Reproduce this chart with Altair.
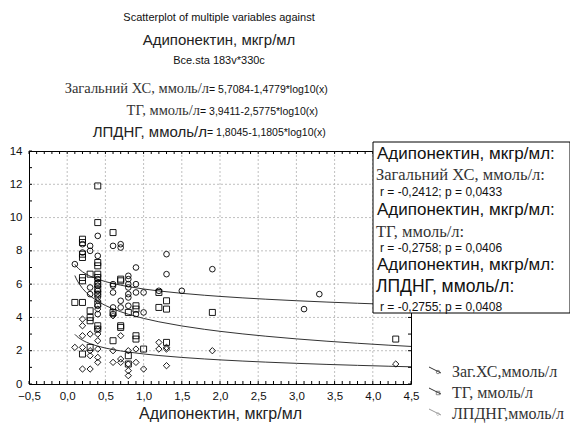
import altair as alt
import pandas as pd
import math

# ---------------- data ----------------
series_names = ["Загальний ХС", "ТГ", "ЛПДНГ"]

xs_chol = [0.1, 0.2, 0.2, 0.3, 0.3, 0.3, 0.3, 0.4, 0.4, 0.4, 0.4, 0.4, 0.4, 0.4, 0.4, 0.4,
           0.6, 0.6, 0.6, 0.6, 0.6, 0.6, 0.7, 0.7, 0.7, 0.7, 0.8, 0.8, 0.8, 0.8, 0.8, 0.8, 0.8,
           0.9, 0.9, 0.9, 0.9, 1.0, 1.0, 1.2, 1.3, 1.3, 1.5, 1.9, 3.1, 3.3]
ys_chol = [7.2, 8.4, 7.9, 8.3, 8.0, 5.8, 5.4, 8.9, 7.7, 6.3, 6.1, 5.9, 5.6, 5.2, 4.7, 4.2,
           8.3, 6.0, 5.9, 5.5, 4.6, 4.2, 8.4, 8.2, 5.0, 4.6, 6.5, 6.3, 6.0, 5.8, 5.4, 5.2, 4.7,
           7.0, 6.0, 5.5, 4.2, 5.5, 4.3, 5.6, 7.8, 6.6, 5.6, 6.9, 4.5, 5.4]

xs_tg = [0.1, 0.2, 0.2, 0.2, 0.2, 0.2, 0.2, 0.2, 0.2, 0.3, 0.3, 0.3, 0.3, 0.3,
         0.4, 0.4, 0.4, 0.4, 0.4, 0.4, 0.4, 0.4, 0.4, 0.4, 0.4, 0.4,
         0.6, 0.6, 0.6, 0.7, 0.7, 0.7, 0.7, 0.8, 0.8, 0.8, 0.9, 0.9, 0.9, 0.9,
         1.0, 1.2, 1.2, 1.3, 1.3, 1.3, 1.9, 4.3]
ys_tg = [4.9, 8.7, 8.5, 7.8, 7.6, 6.4, 6.2, 4.9, 1.8, 6.6, 4.4, 4.0, 3.8, 2.2,
         11.9, 9.7, 7.3, 7.1, 6.6, 6.4, 6.0, 5.7, 5.4, 4.8, 3.5, 3.3,
         9.1, 4.3, 2.6, 6.3, 6.2, 3.5, 3.4, 4.3, 1.7, 1.2, 4.7, 4.5, 2.9, 2.7,
         2.1, 5.5, 4.6, 5.0, 4.5, 2.5, 4.3, 2.7]

xs_vldl = [0.1, 0.2, 0.2, 0.2, 0.2, 0.2, 0.3, 0.3, 0.3, 0.3,
           0.4, 0.4, 0.4, 0.4, 0.4, 0.4, 0.4, 0.4, 0.4,
           0.6, 0.6, 0.6, 0.7, 0.7, 0.7, 0.8, 0.8, 0.8, 0.8, 0.9, 0.9, 1.0,
           1.2, 1.2, 1.3, 1.3, 1.3, 1.9, 4.3]
ys_vldl = [2.2, 3.9, 3.5, 2.9, 2.2, 0.9, 3.0, 2.0, 1.7, 0.9,
           5.4, 5.0, 4.5, 3.3, 3.0, 2.6, 2.1, 1.6, 1.3,
           4.1, 2.0, 1.3, 2.9, 1.5, 1.3, 2.0, 1.2, 0.8, 0.5, 2.1, 1.3, 0.9,
           2.5, 2.1, 2.2, 2.1, 1.1, 2.0, 1.2]

# fitted models y = a + b*log10(x), as printed on the chart
fit_intercepts = [5.7084, 3.9411, 1.8045]
fit_slopes = [-1.4779, -2.5775, -1.1805]
fit_x = [0.1, 0.12, 0.15, 0.2, 0.25, 0.3, 0.4, 0.5, 0.6, 0.7, 0.8, 1.0, 1.2, 1.5, 1.8,
         2.0, 2.3, 2.6, 3.0, 3.4, 3.8, 4.2, 4.5]

x_ticks = [-0.5, 0.0, 0.5, 1.0, 1.5, 2.0, 2.5, 3.0, 3.5, 4.0, 4.5]
y_ticks = [0, 2, 4, 6, 8, 10, 12, 14]

# ---------------- tables ----------------
pts = pd.concat([
    pd.DataFrame({"x": xs_chol, "y": ys_chol, "s": series_names[0]}),
    pd.DataFrame({"x": xs_tg, "y": ys_tg, "s": series_names[1]}),
    pd.DataFrame({"x": xs_vldl, "y": ys_vldl, "s": series_names[2]}),
], ignore_index=True)

curve_rows = []
for name, a, b in zip(series_names, fit_intercepts, fit_slopes):
    for xv in fit_x:
        curve_rows.append({"x": xv, "y": a + b * math.log10(xv), "s": name})
curves = pd.DataFrame(curve_rows)

minor_x = pd.DataFrame({"x": [round(-0.5 + i * 0.1, 2) for i in range(51)]})
minor_y = pd.DataFrame({"y": list(range(0, 15))})
grid_x = pd.DataFrame({"x": x_ticks[1:-1]})
grid_y = pd.DataFrame({"y": y_ticks[1:-1]})

W, H = 382, 233
SANS = "Liberation Sans"
SERIF = "Liberation Serif"

xscale = alt.Scale(domain=[-0.5, 4.5], nice=False, zero=False)
yscale = alt.Scale(domain=[0, 14], nice=False, zero=False)

x_axis = alt.Axis(values=x_ticks, labelExpr="replace(format(datum.value, '.1f'), '.', ',')",
                  title="Адипонектин, мкгр/мл", titleFont=SANS, titleFontSize=16,
                  titleFontWeight="normal", titleColor="#222", titlePadding=4,
                  labelPadding=6, labelFlush=False, grid=False, ticks=False, domain=False)
y_axis = alt.Axis(values=y_ticks, format="d", title=" ", labelPadding=7, titlePadding=0,
                  grid=False, ticks=False, domain=False)

XE = alt.X("x:Q", scale=xscale, axis=x_axis)
YE = alt.Y("y:Q", scale=yscale, axis=y_axis)

gx = alt.Chart(grid_x).mark_rule(color="#b0b0b0", strokeDash=[2, 2], strokeWidth=0.8).encode(x=XE)
gy = alt.Chart(grid_y).mark_rule(color="#b0b0b0", strokeDash=[2, 2], strokeWidth=0.8).encode(y=YE)

tb = alt.Chart(minor_x).mark_rule(color="black").encode(x=XE, y=alt.value(H), y2=alt.value(H - 3))
tt = alt.Chart(minor_x).mark_rule(color="black").encode(x=XE, y=alt.value(0), y2=alt.value(3))
tl = alt.Chart(minor_y).mark_rule(color="black").encode(y=YE, x=alt.value(0), x2=alt.value(3))
tr = alt.Chart(minor_y).mark_rule(color="black").encode(y=YE, x=alt.value(W), x2=alt.value(W - 3))

lines = alt.Chart(curves).mark_line(color="#333", strokeWidth=1).encode(x=XE, y=YE, detail="s:N")

points = alt.Chart(pts).mark_point(filled=False, color="black", strokeWidth=0.9, opacity=1).encode(
    x=XE, y=YE,
    shape=alt.Shape("s:N", scale=alt.Scale(domain=series_names, range=["circle", "square", "diamond"]), legend=None),
    size=alt.Size("s:N", scale=alt.Scale(domain=series_names, range=[32, 40, 55]), legend=None))

one = alt.Data(values=[{}])


def txt(s, x, y, size, font=SANS, align="left", color="#111"):
    return alt.Chart(one).mark_text(text=s, font=font, fontSize=size, align=align,
                                    baseline="middle", color=color).encode(
        x=alt.value(x), y=alt.value(y))


# legend box (top right)
BX0, BX1, BY0, BY1 = 344, 541, -9, 162
box = alt.Chart(one).mark_rect(fill="white", stroke="black", strokeWidth=1).encode(
    x=alt.value(BX0), x2=alt.value(BX1), y=alt.value(BY0), y2=alt.value(BY1))

layers = [gx, gy, tb, tt, tl, tr, lines, points, box]

TX = BX0 + 3
layers += [
    txt("Адипонектин, мкгр/мл:", TX + 1, 3, 17),
    txt("Загальний ХС, ммоль/л:", TX, 24, 16.5, SERIF, color="#333"),
    txt("r = -0,2412; p = 0,0433", TX + 4, 41, 12),
    txt("Адипонектин, мкгр/мл:", TX + 1, 59, 17),
    txt("ТГ, ммоль/л:", TX, 81, 16.5, SERIF, color="#333"),
    txt("r = -0,2758; p = 0,0406", TX + 4, 97, 12),
    txt("Адипонектин, мкгр/мл:", TX + 1, 114, 17),
    txt("ЛПДНГ, ммоль/л:", TX, 136, 17.5),
    txt("r = -0,2755; p = 0,0408", TX + 4, 156, 12),
]

# titles
CX = 190
layers += [
    txt("Scatterplot of multiple variables against", CX, -133, 11, align="center"),
    txt("Адипонектин, мкгр/мл", CX, -111, 15, align="center", color="#222"),
    txt("Bce.sta 183v*330c", CX, -90, 11, align="center"),
    txt("Загальний ХС, ммоль/л", 180, -62, 14.5, SERIF, align="right", color="#333"),
    txt(" = 5,7084-1,4779*log10(x)", 180, -61, 10.5),
    txt("ТГ, ммоль/л", 171, -40, 14.5, SERIF, align="right", color="#333"),
    txt(" = 3,9411-2,5775*log10(x)", 171, -39, 10.5),
    txt("ЛПДНГ, ммоль/л", 178, -19, 15, align="right", color="#222"),
    txt(" = 1,8045-1,1805*log10(x)", 178, -18, 10.5),
]

# bottom-right legend
LX = 400
leg_y = [221, 242, 263]
leg_labels = ["Заг.ХС,ммоль/л", "ТГ, ммоль/л", "ЛПДНГ,ммоль/л"]
leg_shapes = ["circle", "square", "diamond"]
leg_colors = ["#333", "#333", "#999"]
for yy, lab, shp, col in zip(leg_y, leg_labels, leg_shapes, leg_colors):
    layers.append(alt.Chart(one).mark_rule(color=col, strokeWidth=1).encode(
        x=alt.value(LX), x2=alt.value(LX + 12), y=alt.value(yy - 5), y2=alt.value(yy + 1)))
    layers.append(alt.Chart(one).mark_point(shape=shp, filled=False, color=col, size=12, strokeWidth=0.8).encode(
        x=alt.value(LX + 9), y=alt.value(yy)))
    layers.append(txt(lab, LX + 23, yy, 16, SERIF, color="#333"))

chart = alt.layer(*layers).properties(
    width=W, height=H,
    autosize=alt.AutoSizeParams(type="none"),
    padding={"left": 21, "top": 143, "right": 159, "bottom": 41},
).configure_view(stroke="black", strokeWidth=1).configure_axis(
    labelFont=SANS, labelFontSize=11.5, labelColor="#111"
)

chart.save("out.html", embed_options={"renderer": "svg", "actions": False})
